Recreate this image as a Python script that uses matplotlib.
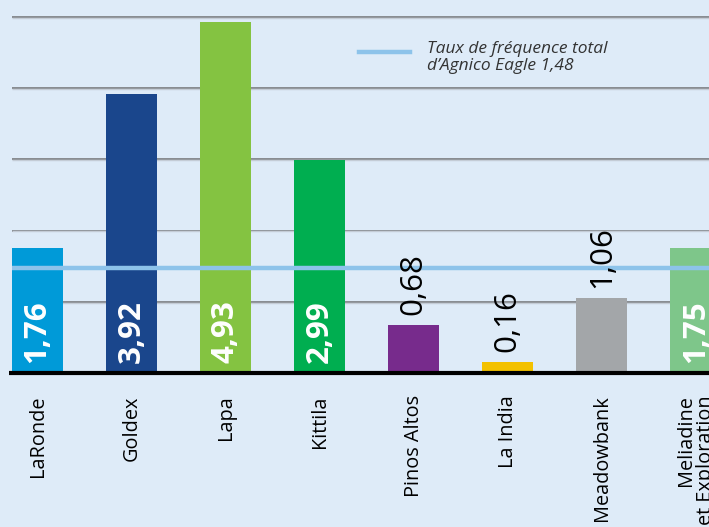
import matplotlib
matplotlib.use("Agg")
import matplotlib.pyplot as plt
from matplotlib.lines import Line2D

# Données
sites = ["LaRonde", "Goldex", "Lapa", "Kittila", "Pinos Altos",
         "La India", "Meadowbank", "Meliadine\net Exploration"]
taux = [1.76, 3.92, 4.93, 2.99, 0.68, 0.16, 1.06, 1.75]
etiquettes = ["1,76", "3,92", "4,93", "2,99", "0,68", "0,16", "1,06", "1,75"]
couleurs = ["#009ad8", "#1a468c", "#84c341", "#00ae50",
            "#772b8c", "#f3c100", "#a3a6a9", "#7ec68a"]
taux_total = 1.48
legende = "Taux de fréquence total\nd’Agnico Eagle 1,48"
grille = [1, 2, 3, 4, 5]

FOND = "#deebf8"
plt.rcParams["font.family"] = ["Open Sans", "DejaVu Sans"]

fig = plt.figure(figsize=(7.09, 5.27), dpi=100, facecolor=FOND)
ax = fig.add_axes([0, 154 / 527, 1, 373 / 527])
ax.set_facecolor(FOND)

x = list(range(len(sites)))
x0, x1 = -0.4, 7.14
ax.set_xlim(x0, x1)
ax.set_ylim(0, 5.24)

# Grille horizontale
ax.hlines(grille, x0 + 12 / 94, x1, color="#878b90", lw=1.4, zorder=1)
ax.hlines([g - 0.012 for g in grille], x0 + 12 / 94, x1, color="#c4ccd6", lw=1.0, zorder=1)

ax.bar(x, taux, width=0.543, color=couleurs, zorder=2)

# Ligne du taux total
ax.hlines(taux_total, x0 + 12 / 94, x1, color="#8dc3ea", lw=3.2, zorder=3)

# Ligne de base
ax.hlines(0, x0 + 9 / 94, x1, color="black", lw=3, zorder=4, clip_on=False)

# Étiquettes de valeurs
for xi, v, lab in zip(x, taux, etiquettes):
    if v > 1.5:
        ax.annotate(lab, (xi, 0), xytext=(0, 7), textcoords="offset points",
                    rotation=90, ha="center", va="bottom", color="white",
                    fontsize=22.5, fontweight="bold", zorder=5)
    else:
        ax.annotate(lab, (xi, v), xytext=(0, 7), textcoords="offset points",
                    rotation=90, ha="center", va="bottom", color="black",
                    fontsize=22.5, zorder=5)

ax.set_xticks(x)
ax.set_xticklabels(sites, rotation=90, va="top", ha="center",
                   multialignment="right", fontsize=14.3, linespacing=1.0)
ax.tick_params(axis="x", length=0, pad=16)
ax.set_yticks([])
for s in ax.spines.values():
    s.set_visible(False)

# Légende
fig.add_artist(Line2D([359 / 709, 410 / 709], [1 - 52 / 527, 1 - 52 / 527],
                      color="#8dc3ea", lw=3.2))
fig.text(427 / 709, 1 - 41 / 527, legende, ha="left", va="top",
         fontsize=12.5, style="italic", color="#333333", linespacing=1.1)

fig.savefig("out.png", dpi=100, facecolor=FOND)
